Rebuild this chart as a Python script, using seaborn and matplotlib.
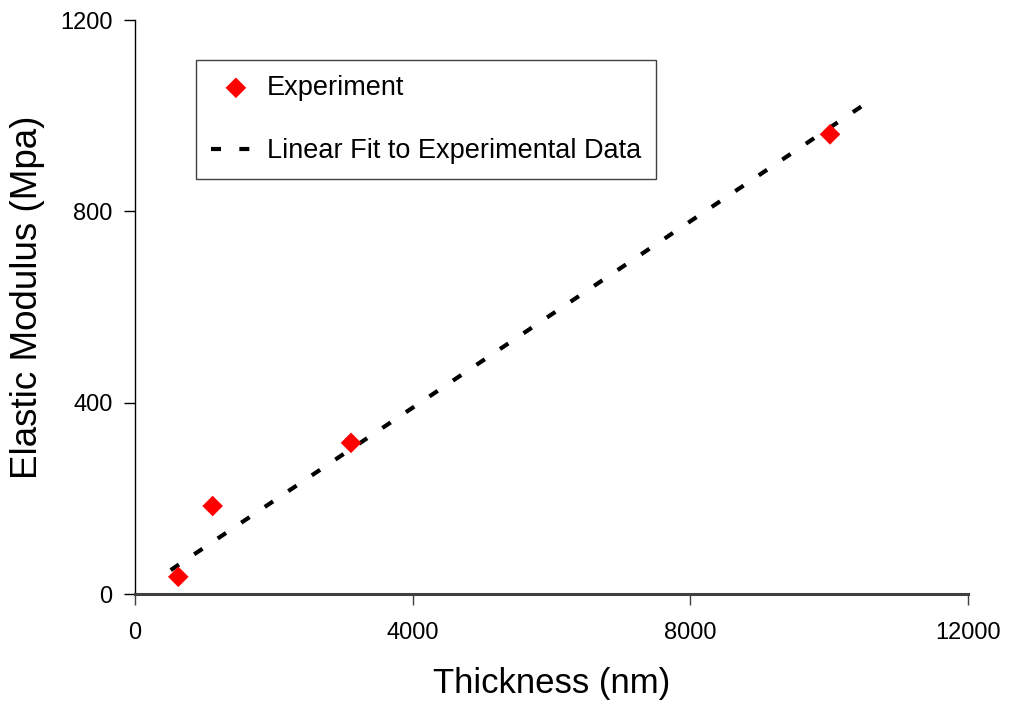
import matplotlib
matplotlib.use("Agg")
import matplotlib.pyplot as plt
import seaborn as sns
import pandas as pd

# Data
thickness_nm = [624, 1119, 3112, 10012]
modulus_mpa = [36, 184, 316, 961]
fit_x = [514, 10492]
fit_y = [50, 1022]
x_ticks = [0, 4000, 8000, 12000]
y_ticks = [0, 400, 800, 1200]

sns.set_theme(style="white")
plt.rcParams['font.family'] = ['Liberation Sans', 'DejaVu Sans']
plt.rcParams['text.color'] = 'black'
plt.rcParams['axes.labelcolor'] = 'black'
plt.rcParams['xtick.color'] = 'black'
plt.rcParams['ytick.color'] = 'black'

fig = plt.figure(figsize=(10.11, 7.07), dpi=100)
ax = fig.add_axes([0.1335, 0.1598, 0.8240, 0.8119])

exp_df = pd.DataFrame({"x": thickness_nm, "y": modulus_mpa})
fit_df = pd.DataFrame({"x": fit_x, "y": fit_y})

sns.lineplot(data=fit_df, x="x", y="y", ax=ax, color="black", lw=3,
             linestyle=(0, (2.4, 4.4)), label="Linear Fit to Experimental Data",
             zorder=2)
sns.scatterplot(data=exp_df, x="x", y="y", ax=ax, color="#ff0000", marker="D",
                s=110, edgecolor="none", label="Experiment", zorder=3)

ax.set_xlim(0, 12000)
ax.set_ylim(0, 1200)
ax.set_xticks(x_ticks)
ax.set_yticks(y_ticks)
ax.set_xticklabels([str(v) for v in x_ticks])
ax.set_yticklabels([str(v) for v in y_ticks])

ax.set_xlabel("Thickness (nm)", fontsize=25, labelpad=17)
ax.set_ylabel("Elastic Modulus (Mpa)", fontsize=26.5)
ax.yaxis.set_label_coords(-0.108, 0.517)

for s in ["top", "right"]:
    ax.spines[s].set_visible(False)
ax.spines["left"].set_color("black")
ax.spines["left"].set_linewidth(1)
ax.spines["bottom"].set_color("#404040")
ax.spines["bottom"].set_linewidth(2.2)
ax.tick_params(axis="x", direction="out", length=8, width=1, color="#404040",
               labelsize=17, pad=12, bottom=True, labelcolor="black")
ax.tick_params(axis="y", direction="out", length=8, width=1, color="black",
               labelsize=17, pad=8, left=True, labelcolor="black")

handles, labels = ax.get_legend_handles_labels()
order = [labels.index("Experiment"), labels.index("Linear Fit to Experimental Data")]
leg = ax.legend([handles[i] for i in order], [labels[i] for i in order],
                loc="upper left", bbox_to_anchor=(0.0732, 0.9303), borderaxespad=0,
                fontsize=19.5, frameon=True, fancybox=False, framealpha=1,
                edgecolor="#404040", handlelength=1.85, handletextpad=0.22,
                labelspacing=1.38, borderpad=0.55)
leg.get_frame().set_linewidth(1)
for t in leg.get_texts():
    t.set_color("black")

fig.savefig("out.png", dpi=100)
